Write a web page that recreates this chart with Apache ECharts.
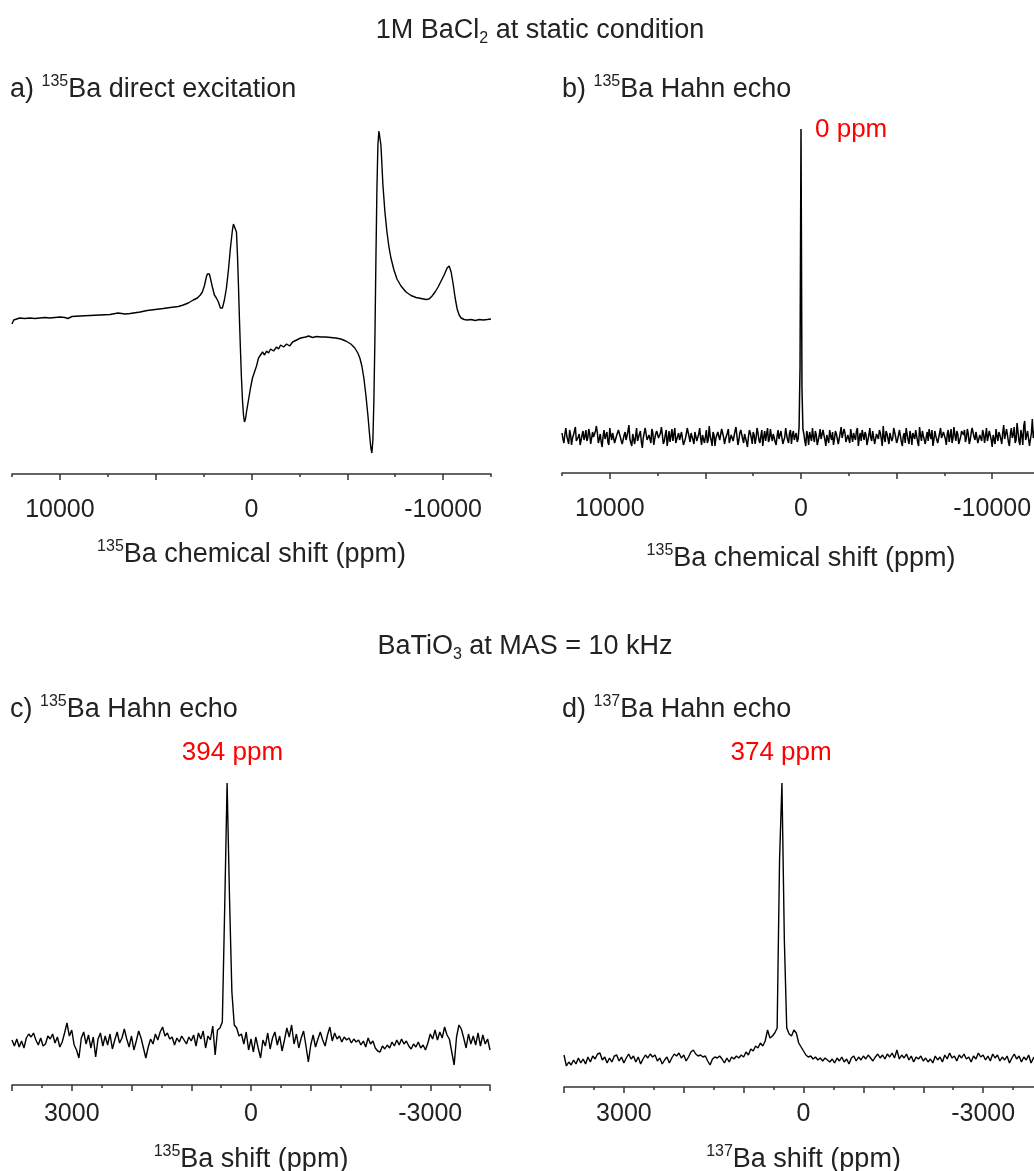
<!DOCTYPE html>
<html>
<head>
<meta charset="utf-8">
<script src="https://cdn.jsdelivr.net/npm/echarts@6/dist/echarts.min.js"></script>
<style>
html,body{margin:0;padding:0;background:#fff;}
#chart{width:1034px;height:1171px;}
</style>
</head>
<body>
<div id="chart"></div>
<script>
// ---------------- DATA (intensities in arbitrary units) ----------------
// a) 135Ba direct excitation, 1M BaCl2 static
const aPpm = [12500,12409,12305,12095,11834,11572,11310,11048,10786,10524,
  10263,10000,9739,9582,9372,8953,8430,7906,7383,6964,
  6597,6336,5812,5445,5027,4608,4241,3822,3560,3299,
  3037,2827,2670,2566,2461,2356,2304,2251,2199,2147,
  2042,1937,1833,1728,1623,1571,1518,1414,1309,1204,
  1100,995,942,890,838,785,733,681,628,576,
  524,471,419,367,314,262,157,52,-52,-157,
  -262,-367,-471,-576,-681,-785,-890,-995,-1152,-1309,
  -1414,-1518,-1675,-1833,-1990,-2147,-2356,-2566,-2827,-2984,
  -3194,-3403,-3613,-3875,-4136,-4398,-4660,-4922,-5184,-5393,
  -5550,-5655,-5760,-5864,-5969,-6074,-6178,-6231,-6283,-6336,
  -6388,-6440,-6493,-6545,-6597,-6650,-6702,-6755,-6807,-6859,
  -6964,-7069,-7174,-7278,-7435,-7592,-7802,-8064,-8325,-8587,
  -8849,-9111,-9268,-9425,-9582,-9739,-9896,-10053,-10210,-10315,
  -10367,-10420,-10524,-10629,-10734,-10838,-10943,-11100,-11257,-11467,
  -11676,-11886,-12095,-12305,-12500];
const aInt = [-4,0,2,2,1.5,2,1.5,2,2.5,2,
  2.5,3,2.5,1.5,3.5,4,4.5,5,5.5,7,
  6,6.5,8,9.5,10.5,11.5,12.5,13.5,15,17,
  20,22,25,28,34,43,46,47,46,42,
  33,25,22,18,12,10,12,20,32,50,
  72,90,96,98,96,88,65,35,0,-30,
  -58,-80,-95,-102,-99,-92,-80,-68,-58,-52,
  -46,-38,-35,-32,-35,-31,-33,-29,-31,-27,
  -29,-25,-27,-24,-26,-22,-20,-18,-17,-16,
  -17.5,-16.5,-17,-17,-17.5,-18,-19,-21,-24,-28,
  -33,-38,-46,-58,-75,-95,-118,-128,-133,-120,
  -80,-20,60,130,175,189,187,175,155,135,
  108,88,73,62,50,41,34,28,24.5,22.5,
  21.5,20.5,21,24,28,33,39,45,52,54,
  53,48,36,22,11,5,2,0.5,0,0.5,
  -0.5,0.5,0,0.5,1];

// b) 135Ba Hahn echo, 1M BaCl2 static (sampled every 50 ppm from 12500 ppm)
const bStart = 12500, bStep = -50;
const bInt = [
  4,-2,-6,3,9,1,-3,-7,7,2,-8,-1,2,6,10,-4,-5,0,3,-8,
  -9,2,6,-3,1,7,-4,-1,8,3,-7,-9,5,0,-2,6,11,4,-6,-2,
  3,-5,-10,1,7,-2,0,5,-5,-8,9,2,-3,4,6,-6,-8,1,2,7,
  8,0,-4,-7,-9,2,5,-3,1,6,12,-2,-6,-9,3,5,-7,1,9,-4,
  -2,3,6,-5,-11,-1,4,9,7,-3,-5,2,0,-6,8,4,-8,-2,3,6,
  5,-1,-3,4,10,2,-7,-4,2,7,-9,-2,6,-5,1,8,-4,3,9,-6,
  -6,1,4,-3,-1,5,7,-8,-10,-2,3,9,8,0,-5,4,2,-3,-7,5,
  6,-4,-2,3,9,-1,-8,2,4,-6,0,7,-6,-3,11,1,-3,-9,5,2,
  -9,-1,2,5,7,-3,-4,8,6,0,-7,-2,1,4,8,-6,-5,2,3,-4,
  -2,6,10,1,-8,-3,4,7,6,-2,-6,3,2,-5,-10,0,7,4,-1,-7,
  5,2,-7,-1,9,4,-3,-6,1,7,-9,0,6,-4,3,9,-5,-2,8,1,
  -4,3,2,-5,-8,1,7,-2,-2,6,5,-7,-6,0,9,2,-3,-6,4,7,
  -7,2,6,-3,1,4,-5,-2,10,70,308,50,8,3,-4,-9,6,1,-8,5,
  3,-4,9,0,-5,6,2,-8,-7,1,8,-2,-1,7,5,-3,-9,2,4,-6,
  7,1,-3,5,-8,-2,6,3,1,-7,-6,4,10,-1,-2,8,4,-5,-7,2,
  3,-6,8,1,-5,4,0,-3,6,9,-9,-1,4,-4,7,2,-3,5,2,-8,
  -6,2,9,-1,-4,6,5,-7,-8,3,1,-2,7,4,-2,-9,11,0,-5,6,
  3,-2,-7,4,6,-4,-1,9,8,0,-6,-3,2,7,5,-5,-9,1,4,-6,
  9,3,-3,-7,6,1,-8,4,2,-2,7,5,-5,-9,10,2,-4,6,1,-3,
  -7,0,5,-4,8,2,-2,7,-9,-3,6,1,3,-6,-5,4,9,-1,-3,5,
  4,-2,-8,3,7,-5,1,8,-6,-1,10,2,-4,6,3,-7,-9,0,6,4,
  2,7,-5,-1,8,3,-7,-3,4,9,11,0,-3,5,6,-6,-8,2,1,-4,
  7,3,-6,1,9,-4,-2,6,5,-3,-10,2,4,-7,8,1,-4,5,2,-2,
  -7,4,12,-2,-3,8,6,-5,-9,3,9,-1,2,10,-6,-3,14,5,-4,-8,
  7,2,-8,11,16,-3,-2,6,5,-9,-10,4,18,-1,3,12,-7,-2,9,15,
  -5];

// c) 135Ba Hahn echo, BaTiO3 MAS 10 kHz (every 40 ppm from 4000 ppm)
const cStart = 4000, cStep = -40;
const cInt = [2,-4,3,-5,1,-6,4,8,5,9,
  2,-3,4,-4,-2,6,3,8,-1,5,
  -5,0,9,19,6,12,-3,-8,-16,4,
  10,-2,7,-6,5,-15,3,9,-4,6,
  -3,8,-7,2,10,-1,4,13,3,-5,
  6,-8,1,11,4,-6,-16,-5,3,-2,
  8,2,10,15,6,9,3,5,-3,4,
  0,6,2,-2,5,1,7,-4,9,3,
  11,-6,6,2,16,-13,12,14,20,135,
  259,145,50,17,14,6,8,-2,10,-8,
  3,-10,5,-6,-16,2,-4,9,-7,4,
  10,-3,6,-9,2,14,5,17,-2,8,
  -6,4,11,-4,-20,-3,7,-5,3,10,
  2,-4,7,15,1,9,3,6,0,5,
  2,4,-1,3,0,2,-3,1,-5,4,
  -2,1,-6,-9,-10,-4,-7,-3,-6,0,
  -4,2,-3,3,-2,1,-4,-7,-2,-5,
  0,-6,-3,-8,-1,8,3,12,2,10,
  4,15,7,3,-10,-23,5,17,13,4,
  -6,8,-2,6,-3,9,-4,7,-2,3,
  -8];

// d) 137Ba Hahn echo, BaTiO3 MAS 10 kHz (every 40 ppm from 4000 ppm)
const dStart = 4000, dStep = -40;
const dInt = [5,-6,-2,-5,0,-4,2,-3,1,-4,
  3,-2,4,1,6,7,0,3,-3,2,
  -2,4,5,-1,3,-3,2,6,1,4,
  -2,3,-4,1,5,2,6,3,5,-1,
  2,-4,0,3,-3,2,6,4,7,2,
  5,-1,3,8,10,6,4,5,3,4,
  -1,-5,1,3,2,4,1,-3,2,-2,
  3,1,4,2,5,3,8,5,11,9,
  14,12,17,14,19,30,22,24,27,32,
  200,277,120,32,26,24,30,27,17,13,
  9,5,3,4,1,3,0,2,-1,2,
  0,-2,1,-3,2,-1,3,-2,1,-4,
  2,4,-1,3,0,4,1,5,2,-1,
  3,6,2,5,1,6,3,7,2,10,
  1,5,2,6,0,4,-2,3,1,4,
  -1,2,-2,1,-3,4,0,3,-2,5,
  1,7,2,4,-1,5,2,6,1,3,
  -2,4,1,7,3,5,0,4,-1,6,
  2,5,-1,3,0,4,-3,2,6,1,
  4,-2,3,0,5,-3,2,4,-1,3,
  0];

// axis ticks / labels
const wideMajor = [-10000,-5000,0,5000,10000];
const wideMinor = [-12500,-7500,-2500,2500,7500,12500];
const wideLabels = [-10000,0,10000];
const narrowMajor = [-4000,-3000,-2000,-1000,0,1000,2000,3000,4000];
const narrowMinor = [-3500,-2500,-1500,-500,500,1500,2500,3500];
const narrowLabels = [-3000,0,3000];

const peakB = {ppm: 0, text: '0 ppm'};
const peakC = {ppm: 394, text: '394 ppm'};
const peakD = {ppm: 374, text: '374 ppm'};

// ---------------- CHART ----------------
const FONT = "'Liberation Sans', Arial, Helvetica, sans-serif";
const TXT = '#222';
const AX = '#333';

function zipPairs(xs, ys) { return xs.map((x, i) => [x, ys[i]]); }
function gridPairs(start, step, ys) { return ys.map((y, i) => [start + step * i, y]); }

const richBase = {
  m: {fontSize: 27, lineHeight: 32, fontFamily: FONT, color: TXT, fill: TXT},
  sup: {fontSize: 16, lineHeight: 18, verticalAlign: 'top', fontFamily: FONT, color: TXT, fill: TXT},
  sub: {fontSize: 16, lineHeight: 18, verticalAlign: 'bottom', fontFamily: FONT, color: TXT, fill: TXT}
};

function axesFor(gi, range, major, minor, labels, margin, name, nameGap) {
  const common = {gridIndex: gi, type: 'value', min: -range, max: range, inverse: true,
    position: 'bottom', splitLine: {show: false}};
  return [
    Object.assign({}, common, {
      axisLine: {show: true, onZero: false, lineStyle: {color: AX, width: 1.5}},
      axisTick: {show: true, customValues: major, length: 6, lineStyle: {color: AX, width: 1.5}},
      axisLabel: {show: true, customValues: labels, margin: margin, fontSize: 25, color: TXT,
        fontFamily: FONT, formatter: v => String(v)},
      name: name, nameLocation: 'middle', nameGap: nameGap, nameMoveOverlap: false,
      nameTextStyle: {fontFamily: FONT, color: TXT, rich: richBase}
    }),
    Object.assign({}, common, {
      axisLine: {show: false, onZero: false},
      axisTick: {show: true, customValues: minor, length: 3, lineStyle: {color: AX, width: 1.5}},
      axisLabel: {show: false}
    })
  ];
}

const xAxes = [].concat(
  axesFor(0, 12500, wideMajor, wideMinor, wideLabels, 24, '{sup|135}{m|Ba chemical shift (ppm)}', 65),
  axesFor(1, 12500, wideMajor, wideMinor, wideLabels, 24, '{sup|135}{m|Ba chemical shift (ppm)}', 70),
  axesFor(2, 4000, narrowMajor, narrowMinor, narrowLabels, 17, '{sup|135}{m|Ba shift (ppm)}', 59),
  axesFor(3, 4000, narrowMajor, narrowMinor, narrowLabels, 15, '{sup|137}{m|Ba shift (ppm)}', 57)
);

const yRanges = [[-154, 220], [-36, 337], [-43, 302], [-27, 320]];
const yAxes = yRanges.map((r, i) => ({gridIndex: i, type: 'value', min: r[0], max: r[1], show: false}));

function peakMark(pk, yv, pos, dist, off) {
  return {
    silent: true, symbol: 'circle', symbolSize: 0, animation: false,
    data: [{coord: [pk.ppm, yv]}],
    label: {show: true, position: pos, distance: dist, offset: off, formatter: pk.text,
      color: '#ff0000', fontSize: 26, fontFamily: FONT}
  };
}

function lineSeries(idx, data, width, mark) {
  const s = {type: 'line', xAxisIndex: idx * 2, yAxisIndex: idx, data: data, symbol: 'none',
    showSymbol: false, animation: false, silent: true, smooth: false,
    lineStyle: {color: '#000', width: width}};
  if (mark) s.markPoint = mark;
  return s;
}

const series = [
  lineSeries(0, zipPairs(aPpm, aInt), 1.4),
  lineSeries(1, gridPairs(bStart, bStep, bInt), 1.5, peakMark(peakB, 308, 'right', 14, [0, 1])),
  lineSeries(2, gridPairs(cStart, cStep, cInt), 1.4, peakMark(peakC, 259, 'top', 17, [5, 0])),
  lineSeries(3, gridPairs(dStart, dStep, dInt), 1.4, peakMark(peakD, 277, 'top', 17, [0, 0]))
];

function label(x, y, text, align) {
  return {type: 'text', x: x, y: y, silent: true,
    style: {text: text, rich: richBase, align: align, textAlign: align,
      verticalAlign: 'middle', textVerticalAlign: 'middle', fill: TXT, font: '27px ' + FONT}};
}

const option = {
  backgroundColor: '#fff',
  animation: false,
  textStyle: {fontFamily: FONT},
  grid: [
    {left: 12, top: 100, width: 479, height: 374, outerBoundsMode: 'none', containLabel: false},
    {left: 562, top: 100, width: 478, height: 373, outerBoundsMode: 'none', containLabel: false},
    {left: 12, top: 740, width: 478, height: 345, outerBoundsMode: 'none', containLabel: false},
    {left: 564, top: 740, width: 479, height: 347, outerBoundsMode: 'none', containLabel: false}
  ],
  xAxis: xAxes,
  yAxis: yAxes,
  series: series,
  graphic: [
    label(540, 31, '{m|1M BaCl}{sub|2}{m| at static condition}', 'center'),
    label(525, 647, '{m|BaTiO}{sub|3}{m| at MAS = 10 kHz}', 'center'),
    label(10, 90, '{m|a) }{sup|135}{m|Ba direct excitation}', 'left'),
    label(562, 90, '{m|b) }{sup|135}{m|Ba Hahn echo}', 'left'),
    label(10, 710, '{m|c) }{sup|135}{m|Ba Hahn echo}', 'left'),
    label(562, 710, '{m|d) }{sup|137}{m|Ba Hahn echo}', 'left')
  ]
};

const chart = echarts.init(document.getElementById('chart'), null, {renderer: 'canvas'});
chart.setOption(option);
</script>
</body>
</html>
